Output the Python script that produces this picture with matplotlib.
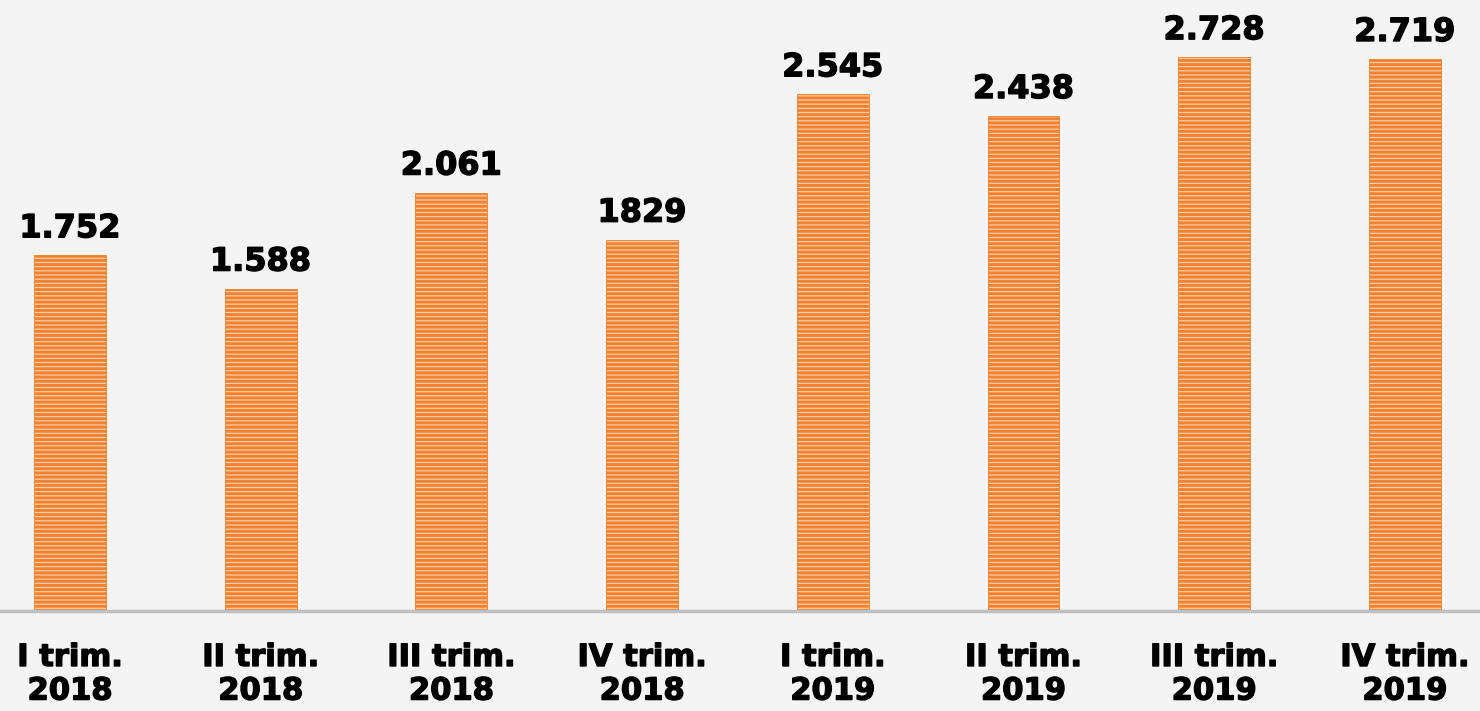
import matplotlib.pyplot as plt
import matplotlib.patheffects as pe

categories = ["I trim.\n2018", "II trim.\n2018", "III trim.\n2018", "IV trim.\n2018",
              "I trim.\n2019", "II trim.\n2019", "III trim.\n2019", "IV trim.\n2019"]
values = [1.752, 1.588, 2.061, 1.829, 2.545, 2.438, 2.728, 2.719]
value_labels = ["1.752", "1.588", "2.061", "1829", "2.545", "2.438", "2.728", "2.719"]

plt.rcParams['hatch.linewidth'] = 2.1
bg = "#F4F4F4"
thick = [pe.withStroke(linewidth=1.0, foreground="black")]

fig = plt.figure(figsize=(14.8, 7.11), dpi=100, facecolor=bg)
ax = fig.add_axes([0, 0.1406, 1, 0.8594])
ax.set_facecolor(bg)

x = range(len(values))
bars = ax.bar(x, values, width=0.377, color="#F9CDA6", edgecolor="#F08232",
              linewidth=0.6, hatch="----", zorder=2)

for xi, v, lab in zip(x, values, value_labels):
    ax.annotate(lab, (xi, v), xytext=(0, 13), textcoords="offset points",
                ha="center", va="baseline", fontsize=23, fontweight="bold",
                color="black", path_effects=thick)

ax.set_xlim(-0.367, 7.394)
ax.set_ylim(0, 611 / 203)
ax.set_xticks(list(x))
ax.set_xticklabels(categories, fontsize=22, fontweight="bold", linespacing=1.2,
                   path_effects=thick)
ax.tick_params(axis="x", length=0, pad=23)
ax.set_yticks([])

for s in ["top", "right", "left"]:
    ax.spines[s].set_visible(False)
ax.spines["bottom"].set_color("#C0C0C0")
ax.spines["bottom"].set_linewidth(2.5)
ax.spines["bottom"].set_zorder(3)

fig.savefig("out.png", dpi=100, facecolor=bg)
